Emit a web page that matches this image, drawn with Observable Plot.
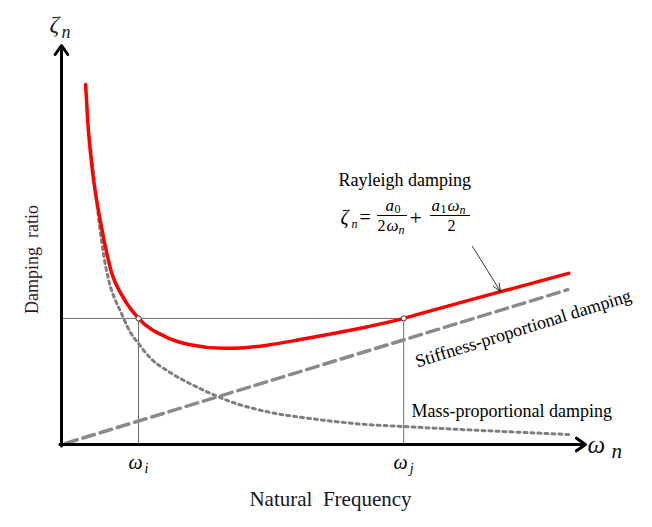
<!DOCTYPE html>
<html>
<head>
<meta charset="utf-8">
<script src="https://cdn.jsdelivr.net/npm/d3@7"></script>
<script src="https://cdn.jsdelivr.net/npm/@observablehq/plot@0.6"></script>
<style>
  html, body { margin: 0; padding: 0; background: #ffffff; }
  #chart svg { display: block; }
</style>
</head>
<body>
<div id="chart"></div>
<script>
// ---- Data (ω in arbitrary units 0..10, ζ in 0..1) ----
const omegaRayleigh = [0.46, 0.50, 0.59, 0.74, 0.88, 0.94, 1.18, 1.47, 2.02, 2.46, 3.09, 3.42, 3.93, 4.56, 5.19, 5.84, 6.53, 6.85, 8.38, 9.68];
const zetaRayleigh  = [0.902, 0.812, 0.687, 0.561, 0.470, 0.438, 0.368, 0.316, 0.268, 0.250, 0.241, 0.242, 0.249, 0.263, 0.278, 0.295, 0.316, 0.328, 0.383, 0.429];

const omegaMass = [0.56, 0.80, 1.18, 1.32, 1.47, 1.70, 2.08, 2.65, 3.28, 3.93, 4.75, 5.84, 6.53, 9.68];
const zetaMass  = [0.740, 0.479, 0.318, 0.280, 0.253, 0.216, 0.180, 0.140, 0.105, 0.082, 0.065, 0.050, 0.045, 0.025];

const omegaStiff = [0.08, 9.66];
const zetaStiff  = [0.003, 0.388];

const omegaI = 1.47;
const omegaJ = 6.53;
const zetaRef = 0.316;

const tickLabels = ["ω", "ω"];
const tickSubs = ["i", "j"];
const tickOmegas = [omegaI, omegaJ];

// ---- Tables built from the arrays ----
const rayleigh = omegaRayleigh.map((w, i) => ({w, z: zetaRayleigh[i]}));
const mass = omegaMass.map((w, i) => ({w, z: zetaMass[i]}));
const stiff = omegaStiff.map((w, i) => ({w, z: zetaStiff[i]}));
const refPoints = [{w: omegaI, z: zetaRef}, {w: omegaJ, z: zetaRef}];

// ---- Layout ----
const W = 652, H = 527;
const mL = 61, mR = 67, mT = 45, mB = 83;
const xMax = 10, yMax = 1;
// pixel -> data helpers for annotation placement
const pw = p => (p - mL) / ((W - mL - mR) / xMax);
const pz = p => (H - mB - p) / ((H - mT - mB) / yMax);

const SERIF = "Liberation Serif, Times New Roman, serif";

function label(str, px, py, opts = {}) {
  return Plot.text([str], {
    x: pw(px), y: pz(py), text: d => d,
    textAnchor: "start", lineAnchor: "bottom",
    fontFamily: SERIF, fontSize: 16, fill: "#000",
    ...opts
  });
}

// formula pieces: ζn = a0/(2ωn) + a1ωn/2
const formula = [
  label("ζ", 340, 223, {fontSize: 20, fontStyle: "italic"}),
  label("n", 351, 227, {fontSize: 12, fontStyle: "italic"}),
  label("=", 359, 223, {fontSize: 20}),
  label("a", 385, 210, {fontSize: 17, fontStyle: "italic"}),
  label("0", 394, 212, {fontSize: 12}),
  label("2", 377, 230, {fontSize: 16}),
  label("ω", 386, 230, {fontSize: 17, fontStyle: "italic"}),
  label("n", 398, 233, {fontSize: 12, fontStyle: "italic"}),
  label("+", 409, 224, {fontSize: 22}),
  label("a", 431, 210, {fontSize: 17, fontStyle: "italic"}),
  label("1", 440, 212, {fontSize: 12}),
  label("ω", 447, 210, {fontSize: 17, fontStyle: "italic"}),
  label("n", 459, 213, {fontSize: 12, fontStyle: "italic"}),
  label("2", 447, 230, {fontSize: 16}),
  Plot.ruleY([pz(215)], {x1: pw(377), x2: pw(407), stroke: "#000", strokeWidth: 1}),
  Plot.ruleY([pz(215)], {x1: pw(430), x2: pw(470), stroke: "#000", strokeWidth: 1})
];

const chart = Plot.plot({
  width: W,
  height: H,
  marginLeft: mL,
  marginRight: mR,
  marginTop: mT,
  marginBottom: mB,
  x: {domain: [0, xMax], axis: null},
  y: {domain: [0, yMax], axis: null},
  style: {background: "#ffffff", overflow: "visible"},
  marks: [
    // reference lines
    Plot.ruleY([zetaRef], {x1: 0, x2: omegaJ, stroke: "#6e6e6e", strokeWidth: 1}),
    Plot.ruleX(tickOmegas, {y1: 0, y2: zetaRef, stroke: "#6e6e6e", strokeWidth: 1}),
    // mass-proportional (dotted)
    Plot.line(mass, {x: "w", y: "z", curve: "monotone-x", stroke: "#7f7f7f", strokeWidth: 3, strokeDasharray: "3,4"}),
    // stiffness-proportional (dashed)
    Plot.line(stiff, {x: "w", y: "z", stroke: "#8a8a8a", strokeWidth: 3.5, strokeDasharray: "12,6"}),
    // Rayleigh (red)
    Plot.line(rayleigh, {x: "w", y: "z", curve: "monotone-x", stroke: "#ff0000", strokeWidth: 3.5}),
    // intersection markers
    Plot.dot(refPoints, {x: "w", y: "z", r: 2.6, fill: "#ffffff", stroke: "#333", strokeWidth: 1}),
    // axes as arrows
    Plot.arrow([{x1: 0, y1: -0.004, x2: 0, y2: yMax}], {x1: "x1", y1: "y1", x2: "x2", y2: "y2", stroke: "#000", strokeWidth: 3, headLength: 5.5, headAngle: 70}),
    Plot.arrow([{x1: -0.03, y1: 0, x2: xMax, y2: 0}], {x1: "x1", y1: "y1", x2: "x2", y2: "y2", stroke: "#000", strokeWidth: 3, headLength: 5.5, headAngle: 70}),
    // annotation arrow to Rayleigh curve
    Plot.arrow([{x1: pw(472), y1: pz(246), x2: pw(500), y2: pz(291)}], {x1: "x1", y1: "y1", x2: "x2", y2: "y2", stroke: "#000", strokeWidth: 0.8, headLength: 16, headAngle: 45}),
    // tick labels ωi, ωj
    Plot.text(tickOmegas, {x: d => d, y: 0, text: (d, i) => tickLabels[i], dx: -3, dy: 24, textAnchor: "middle", lineAnchor: "bottom", fontFamily: SERIF, fontStyle: "italic", fontSize: 20, fill: "#000"}),
    Plot.text(tickOmegas, {x: d => d, y: 0, text: (d, i) => tickSubs[i], dx: 8, dy: 28, textAnchor: "middle", lineAnchor: "bottom", fontFamily: SERIF, fontStyle: "italic", fontSize: 14, fill: "#000"}),
    // axis symbols
    label("ζ", 49, 31, {fontSize: 24, fontStyle: "italic", fill: "#222"}),
    label("n", 61, 37, {fontSize: 18, fontStyle: "italic", fill: "#1a1a3a"}),
    label("ω", 587, 452, {fontSize: 25, fontStyle: "italic", fill: "#111"}),
    label("n", 611, 457, {fontSize: 21, fontStyle: "italic", fill: "#111"}),
    // axis titles
    label("Natural  Frequency", 330, 505, {fontSize: 21, textAnchor: "middle", fill: "#141428"}),
    label("Damping  ratio", 37, 259, {fontSize: 18, textAnchor: "middle", rotate: -90, fill: "#3a1624"}),
    // curve labels
    label("Rayleigh damping", 338, 185, {fontSize: 18}),
    label("Stiffness-proportional damping", 417, 367, {fontSize: 18, rotate: -17.3}),
    label("Mass-proportional damping", 411, 416, {fontSize: 18}),
    ...formula
  ]
});

document.getElementById("chart").appendChild(chart);
</script>
</body>
</html>
